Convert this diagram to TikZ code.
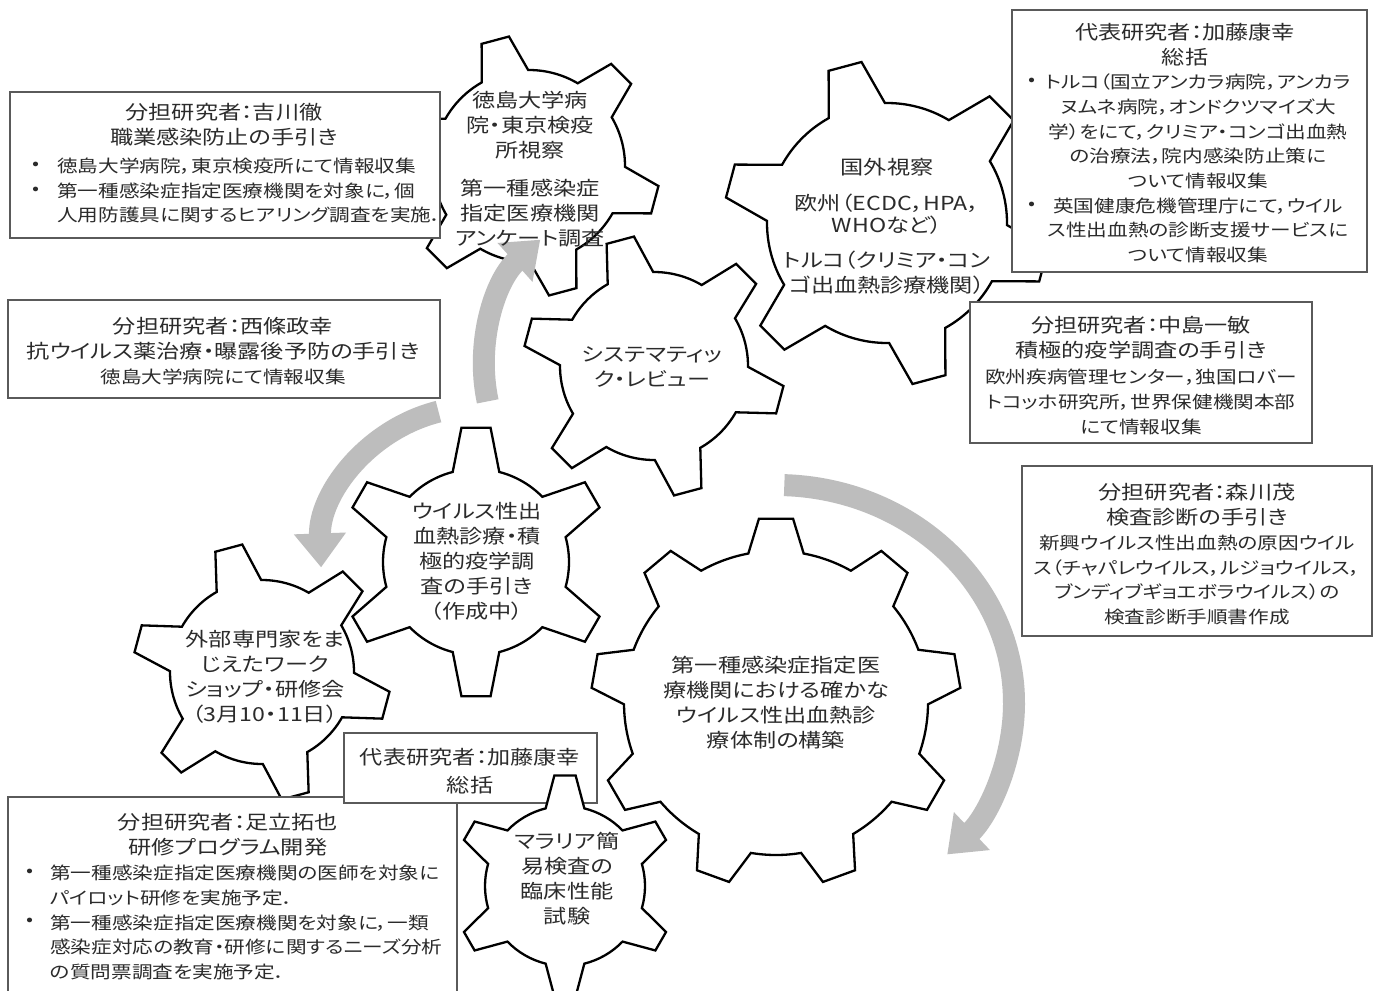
\documentclass[tikz,border=0pt]{standalone}
\usepackage{fontspec}
\usetikzlibrary{calc,arrows.meta}
\newfontfamily\jpfont[FakeStretch=1.2,RawFeature=+palt]{Noto Sans CJK JP}
\newcommand\fT{\jpfont\fontsize{19.3}{25}\selectfont}
\newcommand\fB{\jpfont\fontsize{17.2}{24.7}\selectfont}
\definecolor{arrgray}{HTML}{BDBDBD}
\definecolor{boxline}{HTML}{5A5A5A}
\definecolor{txt}{HTML}{2B2B2B}
% #1 centre, #2 teeth, #3 first tooth angle, #4 outer radius, #5 root radius, #6 tip half-angle, #7 root half-angle
\newcommand\drawgear[7]{%
  \pgfmathsetmacro\gstep{360/#2}%
  \filldraw[gearline] ($(#1)+({#3-#7}:#5)$)
    \foreach \k in {1,...,#2}{
      -- ($(#1)+({#3+(\k-1)*\gstep-#7}:#5)$)
      -- ($(#1)+({#3+(\k-1)*\gstep-#6}:#4)$)
      -- ($(#1)+({#3+(\k-1)*\gstep+#6}:#4)$)
      -- ($(#1)+({#3+(\k-1)*\gstep+#7}:#5)$)
      arc[start angle={#3+(\k-1)*\gstep+#7}, end angle={#3+\k*\gstep-#7}, radius=#5]
    } -- cycle;
}
\begin{document}
\begin{tikzpicture}[x=1pt,y=-1pt,
  gearline/.style={draw=black, line width=2.3pt, fill=white, line join=miter},
  infobox/.style={draw=boxline, line width=1.2pt, fill=white, rectangle, inner sep=0pt},
  ttl/.style={font=\fT, text=txt, align=center, inner sep=0pt},
  gtxt/.style={font=\fT, text=txt, align=center, inner sep=0pt},
  bodyc/.style={font=\fB, text=txt, align=center, inner sep=0pt},
  bodyl/.style={font=\fB, text=txt, align=left, inner sep=0pt, anchor=west},
  dot/.style={font=\fB, text=txt, inner sep=0pt},
  bigarrow/.style={draw=arrgray, line width=22pt, -{Triangle[width=50pt,length=34pt]}}
]
\useasboundingbox (0,0) rectangle (1380,990);
\fill[white] (0,0) rectangle (1380,990);

% gear centres
\coordinate (cG6) at (887,223);
\coordinate (cG1) at (529,166);
\coordinate (cG2) at (654,366);
\coordinate (cG3) at (476,562);
\coordinate (cG4) at (262,672);
\coordinate (cG7) at (776,703);
\coordinate (cG5) at (565,886);

% gears
\drawgear{cG6}{6}{255}{163}{120}{6}{14}
\drawgear{cG1}{6}{255}{131}{96}{6.2}{14.5}
\drawgear{cG2}{6}{255}{131}{94}{6.2}{14.5}
\drawgear{cG3}{6}{270}{135}{93}{6.2}{14.5}
\drawgear{cG4}{6}{255}{129}{92}{6.2}{14.5}
\drawgear{cG7}{9}{270}{185}{152}{5.3}{10.5}

% grey arrows
\draw[bigarrow] ($(cG2)+(168:170)$) arc[start angle=168, end angle=228, radius=170];
\draw[bigarrow] ($(cG3)+(256:155)$) arc[start angle=256, end angle=178, radius=155];
\draw[bigarrow] ($(cG7)+(-88:238 and 218)$) arc[start angle=-88, end angle=44, x radius=238, y radius=218];

% boxes
\node[infobox, minimum width=430pt, minimum height=146pt] (b1) at (225,165) {};
\node[infobox, minimum width=355pt, minimum height=262pt] (b2) at (1189.5,141) {};
\node[infobox, minimum width=342pt, minimum height=141pt] (b3) at (1141,372.5) {};
\node[infobox, minimum width=350pt, minimum height=170pt] (b4) at (1197,551) {};
\node[infobox, minimum width=432pt, minimum height=98pt] (b5) at (224,349) {};
\node[infobox, minimum width=449pt, minimum height=210pt] (b6) at (232.5,902) {};
\node[infobox, minimum width=253pt, minimum height=70pt] (b7) at (470.5,768) {};

% small gear on top of the centre box
\drawgear{cG5}{6}{270}{111}{80}{5.5}{14}

% gear texts
\node[gtxt] (g1t) at (530,169) {徳島大学病\\院・東京検疫\\所視察\\[13pt]第一種感染症\\指定医療機関\\アンケート調査};
\node[gtxt] (g6t) at (887,226) {国外視察\\[11pt]欧州（ECDC，HPA，\\[-3pt]WHOなど）\\[10pt]トルコ（クリミア・コン\\ゴ出血熱診療機関）};
\node[gtxt] (g2t) at (652,367) {システマティッ\\ク・レビュー};
\node[gtxt] (g3t) at (477,561) {ウイルス性出\\血熱診療・積\\極的疫学調\\査の手引き\\（作成中）};
\node[gtxt] (g4t) at (265,677) {外部専門家をま\\じえたワーク\\ショップ・研修会\\（3月10・11日）};
\node[gtxt] (g5t) at (567,879) {マラリア簡\\易検査の\\臨床性能\\試験};
\node[gtxt] (g7t) at (776,703) {第一種感染症指定医\\療機関における確かな\\ウイルス性出血熱診\\療体制の構築};

% box texts
\node[ttl] (b1t) at (224,125) {分担研究者：吉川徹\\職業感染防止の手引き};
\node[dot] (b1d1) at (36,166) {•};
\node[dot] (b1d2) at (36,191) {•};
\node[bodyl] (b1b) at (57,190.5) {徳島大学病院，東京検疫所にて情報収集\\第一種感染症指定医療機関を対象に，個\\人用防護具に関するヒアリング調査を実施．};

\node[ttl] (b2t) at (1185,44.5) {代表研究者：加藤康幸\\総括};
\node[dot] (b2d1) at (1032,82) {•};
\node[dot] (b2d2) at (1032,206) {•};
\node[bodyc] (b2b) at (1198,168.5) {トルコ（国立アンカラ病院，アンカラ\\ヌムネ病院，オンドクツマイズ大\\学）をにて，クリミア・コンゴ出血熱\\の治療法，院内感染防止策に\\ついて情報収集\\英国健康危機管理庁にて，ウイル\\ス性出血熱の診断支援サービスに\\ついて情報収集};

\node[ttl] (b3t) at (1141,338) {分担研究者：中島一敏\\積極的疫学調査の手引き};
\node[bodyc] (b3b) at (1141,402) {欧州疾病管理センター，独国ロバー\\トコッホ研究所，世界保健機関本部\\にて情報収集};

\node[ttl] (b4t) at (1197,505) {分担研究者：森川茂\\検査診断の手引き};
\node[bodyc] (b4b) at (1197,580) {新興ウイルス性出血熱の原因ウイル\\ス（チャパレウイルス，ルジョウイルス，\\ブンディブギョエボラウイルス）の\\検査診断手順書作成};

\node[ttl] (b5t) at (223,339) {分担研究者：西條政幸\\抗ウイルス薬治療・曝露後予防の手引き};
\node[bodyc] (b5b) at (223,377) {徳島大学病院にて情報収集};

\node[ttl] (b6t) at (228,834.5) {分担研究者：足立拓也\\研修プログラム開発};
\node[dot] (b6d1) at (30,873) {•};
\node[dot] (b6d2) at (30,922) {•};
\node[bodyl] (b6b) at (50,922.5) {第一種感染症指定医療機関の医師を対象に\\パイロット研修を実施予定．\\第一種感染症指定医療機関を対象に，一類\\感染症対応の教育・研修に関するニーズ分析\\の質問票調査を実施予定．};

\node[ttl] (b7t) at (470,771) {代表研究者：加藤康幸\\[3pt]総括};
\end{tikzpicture}
\end{document}
